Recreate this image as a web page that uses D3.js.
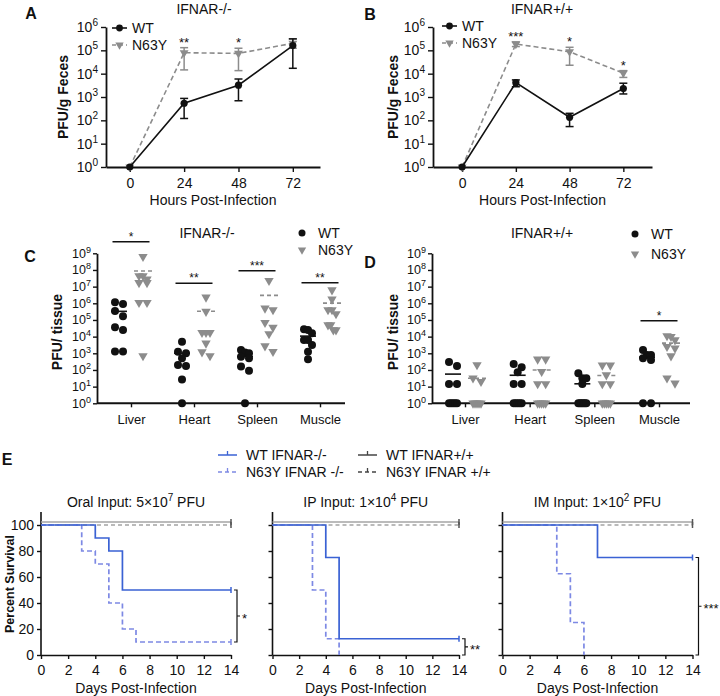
<!DOCTYPE html>
<html><head><meta charset="utf-8">
<script src="https://cdn.jsdelivr.net/npm/d3@7"></script>
<style>
body{margin:0;background:#fff}
text{font-family:"Liberation Sans",Arial,sans-serif;fill:#111}
</style>
</head><body>
<script>
// ---------------- DATA ----------------
const hours = [0, 24, 48, 72];
// Panel A (IFNAR-/-) PFU/g feces
const A_WT      = [1, 5.4e2, 3.2e3, 1.6e5];
const A_WT_lo   = [1, 1.2e2, 6.9e2, 1.7e4];
const A_WT_hi   = [1, 8.7e2, 5.9e3, 3.1e5];
const A_N63Y    = [1, 7.9e4, 7.4e4, 2.0e5];
const A_N63Y_lo = [1, 1.45e4, 1.35e4, 1.23e5];
const A_N63Y_hi = [1, 1.3e5, 1.23e5, 3.1e5];
const A_stars   = ["", "**", "*", ""];
// Panel B (IFNAR+/+)
const B_WT      = [1, 4.1e3, 1.35e2, 2.3e3];
const B_WT_lo   = [1, 2.75e3, 54, 1.35e3];
const B_WT_hi   = [1, 5.4e3, 2.0e2, 3.9e3];
const B_N63Y    = [1, 1.86e5, 8.7e4, 1.05e4];
const B_N63Y_lo = [1, 1.45e5, 2.3e4, 6.9e3];
const B_N63Y_hi = [1, 2.3e5, 1.35e5, 1.35e4];
const B_stars   = ["", "***", "*", "*"];

const tissues = ["Liver", "Heart", "Spleen", "Muscle"];
// Panel C (IFNAR-/-) PFU/tissue, one array per tissue
const C_WT = [
  [1.15e6, 9e5, 3.5e5, 1.7e5, 3.6e4, 2.5e4, 1.3e3, 1.3e3],
  [5e3, 1.26e3, 1e3, 5e2, 2e2, 1.74e2, 27, 1],
  [1.6e3, 1.1e3, 1e3, 6.3e2, 5e2, 1.6e2, 91, 1],
  [2.75e4, 2.5e4, 1.6e4, 6.3e3, 6.3e3, 3.2e3, 1.26e3, 4.4e2]
];
const C_N63Y = [
  [6.3e8, 4.4e7, 4.4e7, 2.8e7, 1.7e7, 1.7e7, 1.1e6, 1.1e6, 7e2],
  [2.3e6, 3.2e5, 1.74e4, 1.74e4, 1.74e4, 4e3, 1.2e3, 7e2],
  [2.3e7, 5e5, 4e5, 6.9e4, 3.6e4, 1.45e4, 2.75e3, 1.26e3],
  [6.3e6, 1.74e6, 4e5, 4e5, 2.3e5, 5e4, 5e4, 2.5e4, 2.5e4]
];
const C_sigLevel = [5e9, 1.6e7, 9e7, 1.7e7];
const C_sigLabel = ["*", "**", "***", "**"];
// Panel D (IFNAR+/+)
const D_WT = [
  [3e2, 1.74e2, 14.5, 14.5, 1, 1, 1, 1, 1],
  [2.3e2, 1.45e2, 72, 14.5, 14.5, 1, 1, 1, 1, 1],
  [63, 32, 32, 14.5, 1, 1, 1, 1, 1, 1],
  [1.6e3, 8e2, 8e2, 5e2, 4e2, 1, 1]
];
const D_N63Y = [
  [2e2, 32, 20, 1, 1, 1, 1, 1],
  [4.4e2, 4.4e2, 80, 14.5, 14.5, 1, 1, 1, 1, 1],
  [1.9e2, 1.9e2, 50, 14.5, 14.5, 1, 1, 1, 1, 1],
  [1.1e4, 1e4, 6.3e3, 2.5e3, 2e3, 6.9e2, 32, 16]
];
const D_sigLevel = [null, null, null, 9e4];
const D_sigLabel = ["", "", "", "*"];

// Panel E survival (day, percent survival)
const dayTicks = [0, 2, 4, 6, 8, 10, 12, 14];
const survTicks = [0, 20, 40, 60, 80, 100];
const oral_WTko   = [[0,100],[4,90],[5,80],[6,50],[14,50]];
const oral_N63Yko = [[0,100],[3,80],[4,70],[5,40],[6,20],[7,10],[14,10]];
const oral_WTwt   = [[0,100],[14,100]];
const oral_N63Ywt = [[0,100],[14,100]];
const ip_WTko     = [[0,100],[4,75],[5,12.5],[14,12.5]];
const ip_N63Yko   = [[0,100],[3,50],[4,12.5],[5,0]];
const ip_WTwt     = [[0,100],[14,100]];
const ip_N63Ywt   = [[0,100],[14,100]];
const im_WTko     = [[0,100],[7,75],[14,75]];
const im_N63Yko   = [[0,100],[4,62.5],[5,25],[6,0]];
const im_WTwt     = [[0,100],[14,100]];
const im_N63Ywt   = [[0,100],[14,100]];
const E_sig = [[50,10,"*"],[12.5,0,"**"],[75,0,"***"]];

// ---------------- STYLE ----------------
const BLACK = "#111", GREY = "#8c8c8c";
const BLUE = "#3a62d4", BLUE_L = "#7d89e4", GREY_E = "#a4a4a4";

const svg = d3.select("body").append("svg").attr("width", 720).attr("height", 696);
svg.append("rect").attr("width",720).attr("height",696).attr("fill","#fff");

function styleAxis(g, w) {
  g.select(".domain").attr("stroke", BLACK).attr("stroke-width", w || 1.8);
  g.selectAll(".tick line").attr("stroke", BLACK).attr("stroke-width", 1.4);
}
function powLabels(g, size) {
  g.selectAll(".tick text").each(function(d) {
    const t = d3.select(this).text(null).attr("font-size", size).attr("fill", BLACK);
    t.append("tspan").text("10");
    t.append("tspan").attr("dy", -size*0.42).attr("font-size", size*0.72).text(Math.round(Math.log10(d)));
  });
}
function txt(x, y, s, size, opts) {
  opts = opts || {};
  const t = svg.append("text").attr("x", x).attr("y", y).attr("font-size", size)
    .attr("text-anchor", opts.anchor || "middle").attr("fill", opts.fill || BLACK)
    .attr("font-weight", opts.bold ? "bold" : "normal");
  if (opts.rotate) t.attr("transform", `rotate(-90,${x},${y})`);
  t.text(s);
  return t;
}
function triangle(size) {
  return d3.symbol().type(d3.symbolTriangle).size(size)();
}

// ---------------- PANELS A & B ----------------
function linePanel(o) {
  const x = d3.scaleLinear().domain(o.xdom).range([o.left, o.right]);
  const y = d3.scaleLog().domain([1, 1e6]).range([o.bottom, o.top]);
  const g = svg.append("g");
  const ya = g.append("g").attr("transform", `translate(${o.left},0)`)
    .call(d3.axisLeft(y).tickValues([1,10,100,1e3,1e4,1e5,1e6]).tickSize(5).tickSizeOuter(0).tickPadding(3));
  styleAxis(ya); powLabels(ya, 14);
  const xa = g.append("g").attr("transform", `translate(0,${o.bottom})`)
    .call(d3.axisBottom(x).tickValues(hours).tickSize(5).tickSizeOuter(0).tickPadding(6));
  styleAxis(xa);
  xa.selectAll(".tick text").attr("font-size", 14).attr("fill", BLACK);

  const series = [
    {v:o.N63Y, lo:o.N63Y_lo, hi:o.N63Y_hi, color:GREY, dash:"5,3", tri:true},
    {v:o.WT, lo:o.WT_lo, hi:o.WT_hi, color:BLACK, dash:null, tri:false}
  ];
  series.forEach(s => {
    const pts = hours.map((h,i) => ({h, v:s.v[i], lo:s.lo[i], hi:s.hi[i]}));
    g.append("path").datum(pts).attr("fill","none").attr("stroke", s.color).attr("stroke-width", 1.6)
      .attr("stroke-dasharray", s.dash)
      .attr("d", d3.line().x(d => x(d.h)).y(d => y(d.v)));
    const eb = g.append("g").attr("stroke", s.color).attr("stroke-width", 1.5);
    pts.filter(d => d.hi > d.lo).forEach(d => {
      eb.append("line").attr("x1", x(d.h)).attr("x2", x(d.h)).attr("y1", y(d.lo)).attr("y2", y(d.hi));
      eb.append("line").attr("x1", x(d.h)-4).attr("x2", x(d.h)+4).attr("y1", y(d.lo)).attr("y2", y(d.lo));
      eb.append("line").attr("x1", x(d.h)-4).attr("x2", x(d.h)+4).attr("y1", y(d.hi)).attr("y2", y(d.hi));
    });
    pts.forEach(d => {
      if (s.tri) g.append("path").attr("d", triangle(34)).attr("fill", s.color)
        .attr("transform", `translate(${x(d.h)},${y(d.v)}) rotate(180)`);
      else g.append("circle").attr("cx", x(d.h)).attr("cy", y(d.v)).attr("r", 3.6).attr("fill", s.color);
    });
  });
  // stars
  hours.forEach((h,i) => {
    if (!o.stars[i]) return;
    const top = Math.max(o.N63Y_hi[i], o.WT_hi[i]);
    txt(x(h), y(top) - 1, o.stars[i], 13);
  });
  // legend
  const lg = svg.append("g");
  [[o.legY, BLACK, null, false, "WT"], [o.legY + 17, GREY, "4,3", true, "N63Y"]].forEach(r => {
    lg.append("line").attr("x1", o.legX).attr("x2", o.legX + 15).attr("y1", r[0]).attr("y2", r[0])
      .attr("stroke", r[1]).attr("stroke-width", 1.6).attr("stroke-dasharray", r[2]);
    if (r[3]) lg.append("path").attr("d", triangle(30)).attr("fill", r[1])
      .attr("transform", `translate(${o.legX+7.5},${r[0]}) rotate(180)`);
    else lg.append("circle").attr("cx", o.legX+7.5).attr("cy", r[0]).attr("r", 3.4).attr("fill", r[1]);
    txt(o.legX + 20, r[0] + 5, r[4], 14, {anchor:"start"});
  });
  txt(o.titleX, 14, o.title, 14);
  txt(o.letterX, o.letterY, o.letter, 16, {bold:true});
  txt((o.left + o.right)/2, 205, "Hours Post-Infection", 14);
  txt(o.ylabX, (o.top + o.bottom)/2, "PFU/g Feces", 14, {bold:true, rotate:true});
}

linePanel({left:106, right:320, top:27, bottom:167, xdom:[-10.5, 84],
  WT:A_WT, WT_lo:A_WT_lo, WT_hi:A_WT_hi, N63Y:A_N63Y, N63Y_lo:A_N63Y_lo, N63Y_hi:A_N63Y_hi,
  stars:A_stars, legX:112, legY:28, title:"IFNAR-/-", titleX:204, letter:"A", letterX:31, letterY:19, ylabX:68});
linePanel({left:433, right:652, top:27, bottom:167, xdom:[-13, 84.8],
  WT:B_WT, WT_lo:B_WT_lo, WT_hi:B_WT_hi, N63Y:B_N63Y, N63Y_lo:B_N63Y_lo, N63Y_hi:B_N63Y_hi,
  stars:B_stars, legX:442, legY:26, title:"IFNAR+/+", titleX:542, letter:"B", letterX:370, letterY:20, ylabX:398});

// ---------------- PANELS C & D ----------------
function spreadX(vals, y, cx) {
  const idx = d3.range(vals.length).sort((a,b) => y(vals[a]) - y(vals[b]));
  const xs = new Array(vals.length);
  let i = 0;
  while (i < idx.length) {
    const y0 = y(vals[idx[i]]);
    let j = i;
    while (j + 1 < idx.length && y(vals[idx[j+1]]) - y0 <= 6) j++;
    const k = j - i + 1;
    const s = k > 1 ? Math.min(8.5, 8/(k-1)) : 0;
    for (let m = 0; m < k; m++) xs[idx[i+m]] = cx + (m - (k-1)/2) * s;
    i = j + 1;
  }
  return xs;
}
function scatterPanel(o) {
  const x = d3.scalePoint().domain(tissues).range([o.c0, o.c1]);
  const y = d3.scaleLog().domain([1, 1e9]).range([o.bottom, o.top]);
  const g = svg.append("g");
  const ya = g.append("g").attr("transform", `translate(${o.left},0)`)
    .call(d3.axisLeft(y).tickValues(d3.range(0,10).map(k => Math.pow(10,k))).tickSize(4).tickSizeOuter(0).tickPadding(2));
  styleAxis(ya); powLabels(ya, 12.5);
  g.append("line").attr("x1", o.left).attr("x2", o.right).attr("y1", o.bottom).attr("y2", o.bottom)
    .attr("stroke", BLACK).attr("stroke-width", 2);
  const xa = g.append("g").attr("transform", `translate(0,${o.bottom})`)
    .call(d3.axisBottom(x).tickSize(4).tickSizeOuter(0).tickPadding(7));
  xa.select(".domain").remove();
  styleAxis(xa);
  xa.selectAll(".tick text").attr("font-size", 13).attr("fill", BLACK);

  tissues.forEach((t, ti) => {
    const cx = x(t);
    const wt = o.WT[ti], mu = o.N63Y[ti];
    const cw = cx - 12, cm = cx + 12;
    // means
    const mw = d3.mean(wt), mm = d3.mean(mu);
    g.append("line").attr("x1", cw-8).attr("x2", cw+8).attr("y1", y(mw)).attr("y2", y(mw))
      .attr("stroke", BLACK).attr("stroke-width", 1.6);
    g.append("line").attr("x1", cm-9).attr("x2", cm+9).attr("y1", y(mm)).attr("y2", y(mm))
      .attr("stroke", GREY).attr("stroke-width", 1.6).attr("stroke-dasharray", "4,3");
    const xw = spreadX(wt, y, cw), xm = spreadX(mu, y, cm);
    mu.forEach((v,i) => g.append("path").attr("d", triangle(38)).attr("fill", GREY)
      .attr("transform", `translate(${xm[i]},${y(v)}) rotate(180)`));
    wt.forEach((v,i) => g.append("circle").attr("cx", xw[i]).attr("cy", y(v)).attr("r", 4).attr("fill", BLACK));
    if (o.sigLevel[ti]) {
      const sy = y(o.sigLevel[ti]);
      g.append("line").attr("x1", cx-18.5).attr("x2", cx+18.5).attr("y1", sy).attr("y2", sy)
        .attr("stroke", BLACK).attr("stroke-width", 1.5);
      txt(cx, sy - 1, o.sigLabel[ti], 12);
    }
  });
  // legend
  svg.append("circle").attr("cx", o.legX).attr("cy", o.legY).attr("r", 3.5).attr("fill", BLACK);
  txt(o.legX + 16, o.legY + 5, "WT", 14, {anchor:"start"});
  svg.append("path").attr("d", triangle(30)).attr("fill", GREY)
    .attr("transform", `translate(${o.legX},${o.legY + o.legDy}) rotate(180)`);
  txt(o.legX + 16, o.legY + o.legDy + 5, "N63Y", 14, {anchor:"start"});
  txt(o.titleX, 238, o.title, 14);
  txt(o.letterX, o.letterY, o.letter, 16, {bold:true});
  txt(o.ylabX, 332, "PFU/ tissue", 14, {bold:true, rotate:true});
}
scatterPanel({left:97, right:345, c0:131, c1:320, top:253.3, bottom:403.3,
  WT:C_WT, N63Y:C_N63Y, sigLevel:C_sigLevel, sigLabel:C_sigLabel,
  legX:302, legY:233, legDy:17, title:"IFNAR-/-", titleX:207, letter:"C", letterX:30, letterY:262, ylabX:62});
scatterPanel({left:432, right:690, c0:465, c1:659, top:253.3, bottom:403.3,
  WT:D_WT, N63Y:D_N63Y, sigLevel:D_sigLevel, sigLabel:D_sigLabel,
  legX:635, legY:234, legDy:20, title:"IFNAR+/+", titleX:542, letter:"D", letterX:370, letterY:268, ylabX:398});

// ---------------- PANEL E ----------------
function survPanel(o) {
  const x = d3.scaleLinear().domain([0, 14]).range([o.left, o.right]);
  const y = d3.scaleLinear().domain([0, 110]).range([655, 512]);
  const g = svg.append("g");
  const ya = g.append("g").attr("transform", `translate(${o.left},0)`)
    .call(d3.axisLeft(y).tickValues(survTicks).tickSize(4).tickSizeOuter(0).tickPadding(3));
  ya.select(".domain").attr("d", `M0,${y(110)}V${y(0)}`);
  styleAxis(ya, 1.6);
  ya.selectAll(".tick text").attr("font-size", 14).attr("fill", BLACK);
  if (!o.ylabels) ya.selectAll(".tick text").remove();
  const xa = g.append("g").attr("transform", `translate(0,655)`)
    .call(d3.axisBottom(x).tickValues(dayTicks).tickSize(4).tickSizeOuter(0).tickPadding(6));
  styleAxis(xa, 1.6);
  xa.selectAll(".tick text").attr("font-size", 14).attr("fill", BLACK);

  const line = d3.line().x(d => x(d[0])).y(d => y(d[1])).curve(d3.curveStepAfter);
  const curves = [
    {d:o.WTwt, c:GREY_E, dash:null, off:-3},
    {d:o.N63Ywt, c:GREY_E, dash:"4,3", off:0},
    {d:o.N63Yko, c:BLUE_L, dash:"5,3", off:0},
    {d:o.WTko, c:BLUE, dash:null, off:0}
  ];
  curves.forEach(c => {
    const cg = g.append("g").attr("transform", `translate(0,${c.off})`);
    cg.append("path").datum(c.d).attr("fill","none").attr("stroke", c.c).attr("stroke-width", 1.7)
      .attr("stroke-dasharray", c.dash).attr("d", line);
    const last = c.d[c.d.length - 1];
    if (last[1] > 0) cg.append("line").attr("x1", x(last[0])).attr("x2", x(last[0]))
      .attr("y1", y(last[1]) - 3).attr("y2", y(last[1]) + 3).attr("stroke", c.c === GREY_E ? "#555" : c.c).attr("stroke-width", 1.5);
  });
  // significance bracket
  const [s1, s2, lab] = o.sig;
  const bx = x(14) + 6, ya1 = y(s1), ya2 = y(s2), ym = (ya1 + ya2)/2;
  g.append("path").attr("fill","none").attr("stroke", BLACK).attr("stroke-width", 1.2)
    .attr("d", `M${bx-3},${ya1}H${bx}V${ya2}H${bx-3}M${bx},${ym}H${bx+3}`);
  txt(bx + 5, ym + 7, lab, 13, {anchor:"start"});

  const t = svg.append("text").attr("x", (o.left + o.right)/2).attr("y", 507).attr("font-size", 14)
    .attr("text-anchor", "middle").attr("fill", BLACK);
  t.append("tspan").text(o.title[0]);
  t.append("tspan").attr("dy", -6).attr("font-size", 10).text(o.title[1]);
  t.append("tspan").attr("dy", 6).text(o.title[2]);
  txt((o.left + o.right)/2, 693, "Days Post-Infection", 14);
}
survPanel({left:41, right:231, ylabels:true, WTko:oral_WTko, N63Yko:oral_N63Yko, WTwt:oral_WTwt, N63Ywt:oral_N63Ywt,
  sig:E_sig[0], title:["Oral Input: 5×10","7"," PFU"]});
survPanel({left:272.5, right:459, ylabels:false, WTko:ip_WTko, N63Yko:ip_N63Yko, WTwt:ip_WTwt, N63Ywt:ip_N63Ywt,
  sig:E_sig[1], title:["IP Input: 1×10","4"," PFU"]});
survPanel({left:502.5, right:692.5, ylabels:false, WTko:im_WTko, N63Yko:im_N63Yko, WTwt:im_WTwt, N63Ywt:im_N63Ywt,
  sig:E_sig[2], title:["IM Input: 1×10","2"," PFU"]});
txt(14, 584, "Percent Survival", 12.5, {bold:true, rotate:true});
txt(7, 465, "E", 16, {bold:true});

// E legend
const legE = [
  {x:218, y:455, c:BLUE, dash:null, label:"WT IFNAR-/-"},
  {x:218, y:472, c:BLUE_L, dash:"4,3", label:"N63Y IFNAR -/-"},
  {x:358, y:455, c:"#444", dash:null, label:"WT IFNAR+/+"},
  {x:358, y:472, c:"#444", dash:"4,3", label:"N63Y IFNAR +/+"}
];
legE.forEach(l => {
  svg.append("line").attr("x1", l.x).attr("x2", l.x + 19).attr("y1", l.y).attr("y2", l.y)
    .attr("stroke", l.c).attr("stroke-width", 1.5).attr("stroke-dasharray", l.dash);
  svg.append("line").attr("x1", l.x + 9.5).attr("x2", l.x + 9.5).attr("y1", l.y - 4).attr("y2", l.y)
    .attr("stroke", l.c).attr("stroke-width", 1.3);
  txt(l.x + 28, l.y + 5, l.label, 14, {anchor:"start"});
});
</script>
</body></html>
